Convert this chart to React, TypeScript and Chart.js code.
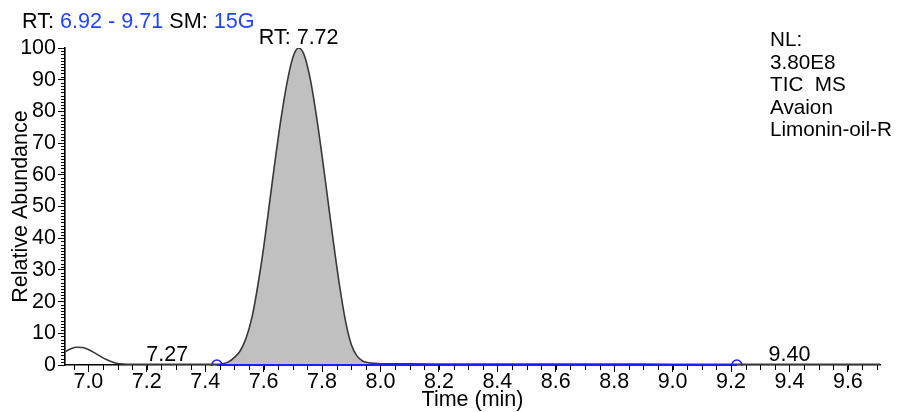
import React, { useEffect, useRef } from 'react';
import { Chart, registerables } from 'chart.js';

Chart.register(...registerables);

// Retention time (min)
const times = [
  6.92, 6.94, 6.96, 6.98, 7.0, 7.02, 7.04, 7.06, 7.08, 7.1, 7.12, 7.14, 7.2, 7.3, 7.4,
  7.44, 7.46, 7.48, 7.5, 7.52, 7.54, 7.56, 7.58, 7.6, 7.62, 7.64, 7.66, 7.68, 7.7, 7.72,
  7.74, 7.76, 7.78, 7.8, 7.82, 7.84, 7.86, 7.88, 7.9, 7.92, 7.94, 7.96, 7.98, 8.0, 8.1,
  8.3, 8.6, 9.0, 9.22, 9.4, 9.71,
];
// Relative abundance (%)
const abundance = [
  4.2, 5.1, 5.6, 5.5, 4.9, 3.9, 2.8, 1.8, 1.0, 0.5, 0.3, 0.2, 0.2, 0.2, 0.2,
  0.2, 0.4, 1.0, 2.4, 4.5, 8.5, 15, 25, 37, 51, 65, 78, 89, 97, 100,
  97.5, 90, 79, 66, 52, 38, 25, 14, 6.5, 2.8, 1.2, 0.7, 0.5, 0.4, 0.35,
  0.3, 0.3, 0.25, 0.2, 0.2, 0.2,
];

const integrationStart = 7.44;
const integrationEnd = 9.22;

const xTickValues = [7.0, 7.2, 7.4, 7.6, 7.8, 8.0, 8.2, 8.4, 8.6, 8.8, 9.0, 9.2, 9.4, 9.6];
const yTickValues = [0, 10, 20, 30, 40, 50, 60, 70, 80, 90, 100];

const peakLabelRT = [7.72, 7.27, 9.4];
const peakLabelText = ['RT: 7.72', '7.27', '9.40'];
const peakLabelLevel = [100, 0, 0];

const headerParts = ['RT: ', '6.92 - 9.71', ' SM: ', '15G'];
const headerColors = ['#000000', '#1f45ff', '#000000', '#1f45ff'];
const infoLines = ['NL:', '3.80E8', 'TIC  MS', 'Avaion', 'Limonin-oil-R'];

const FONT = 'Arial, "Liberation Sans", Helvetica, sans-serif';

export default function App() {
  const ref = useRef<HTMLCanvasElement | null>(null);

  useEffect(() => {
    const canvas = ref.current;
    if (!canvas) return;

    const signal = times.map((t, i) => ({ x: t, y: abundance[i] }));
    const filled = signal.filter((p) => p.x >= integrationStart && p.x <= integrationEnd);
    const baseline = [
      { x: integrationStart, y: 0 },
      { x: integrationEnd, y: 0 },
    ];

    const minorTicks = {
      id: 'minorTicks',
      afterDatasetsDraw(chart: any) {
        const ctx = chart.ctx;
        const xs = chart.scales.x;
        const ys = chart.scales.y;
        const y0 = ys.getPixelForValue(0);
        const xAxis = xs.left;
        ctx.save();
        ctx.strokeStyle = '#000';
        ctx.lineWidth = 1;
        for (let k = 139; k <= 194; k++) {
          const v = k * 0.05;
          if (v < xs.min || v > xs.max) continue;
          const px = Math.round(xs.getPixelForValue(v)) + 0.5;
          ctx.beginPath();
          ctx.moveTo(px, y0);
          ctx.lineTo(px, y0 + 5);
          ctx.stroke();
        }
        for (let v = 1; v < 100; v++) {
          if (v % 10 === 0) continue;
          const py = Math.round(ys.getPixelForValue(v)) + 0.5;
          ctx.beginPath();
          ctx.moveTo(xAxis, py);
          ctx.lineTo(xAxis - 4, py);
          ctx.stroke();
        }
        ctx.restore();
      },
    };

    const texts = {
      id: 'texts',
      afterDraw(chart: any) {
        const ctx = chart.ctx;
        const xs = chart.scales.x;
        const ys = chart.scales.y;
        ctx.save();
        ctx.textBaseline = 'alphabetic';
        // header
        ctx.font = `21.6px ${FONT}`;
        ctx.textAlign = 'left';
        let hx = 22;
        headerParts.forEach((p, i) => {
          ctx.fillStyle = headerColors[i];
          ctx.fillText(p, hx, 28);
          hx += ctx.measureText(p).width;
        });
        // info block
        ctx.fillStyle = '#000';
        ctx.font = `20.7px ${FONT}`;
        infoLines.forEach((line, i) => {
          ctx.fillText(line, 770, 46 + i * 22.6);
        });
        // peak labels
        ctx.textAlign = 'center';
        ctx.font = `21.5px ${FONT}`;
        peakLabelRT.forEach((rt, i) => {
          const px = xs.getPixelForValue(rt);
          const py = ys.getPixelForValue(peakLabelLevel[i]);
          ctx.fillText(peakLabelText[i], px, py - 4);
        });
        ctx.restore();
      },
    };

    const chart = new Chart(canvas, {
      type: 'line',
      data: {
        datasets: [
          {
            data: filled,
            fill: 'origin',
            backgroundColor: '#c0c0c0',
            borderWidth: 0,
            borderColor: 'rgba(0,0,0,0)',
            pointRadius: 0,
            cubicInterpolationMode: 'monotone',
            order: 3,
          },
          {
            data: signal,
            fill: false,
            borderColor: '#383838',
            borderWidth: 1.6,
            pointRadius: 0,
            cubicInterpolationMode: 'monotone',
            order: 2,
          },
          {
            data: baseline,
            fill: false,
            borderColor: '#2020ff',
            borderWidth: 2,
            pointRadius: 5,
            pointBorderColor: '#2020ff',
            pointBackgroundColor: 'rgba(0,0,0,0)',
            pointBorderWidth: 1.5,
            clip: { left: false, right: false, top: false, bottom: 1 } as any,
            order: 1,
          },
        ] as any,
      },
      options: {
        animation: false,
        responsive: false,
        devicePixelRatio: 1,
        parsing: false as any,
        layout: { padding: { top: 48, right: 18, left: 0, bottom: 0 } },
        plugins: {
          legend: { display: false },
          tooltip: { enabled: false },
          title: { display: false },
        },
        scales: {
          x: {
            type: 'linear',
            min: 6.92,
            max: 9.71,
            afterBuildTicks: (scale: any) => {
              scale.ticks = xTickValues.map((v) => ({ value: v }));
            },
            afterFit: (scale: any) => {
              scale.height = 47;
            },
            grid: {
              drawOnChartArea: false,
              drawTicks: true,
              tickLength: 7,
              tickColor: '#000',
            },
            border: { display: true, color: '#000', width: 1.6 },
            ticks: {
              autoSkip: false,
              maxRotation: 0,
              padding: -3,
              color: '#000',
              font: { family: FONT, size: 21.5 },
              callback: (v: any) => Number(v).toFixed(1),
            },
            title: {
              display: true,
              text: 'Time (min)',
              color: '#000',
              font: { family: FONT, size: 21.5 },
              padding: { top: 0, bottom: -1 },
            },
          },
          y: {
            type: 'linear',
            min: 0,
            max: 100,
            afterBuildTicks: (scale: any) => {
              scale.ticks = yTickValues.map((v) => ({ value: v }));
            },
            afterFit: (scale: any) => {
              scale.width = 65;
            },
            grid: {
              drawOnChartArea: false,
              drawTicks: true,
              tickLength: 7,
              tickColor: '#000',
            },
            border: { display: true, color: '#000', width: 1.6 },
            ticks: {
              autoSkip: false,
              padding: 2,
              color: '#000',
              font: { family: FONT, size: 21.5 },
            },
            title: {
              display: true,
              text: 'Relative Abundance',
              color: '#000',
              font: { family: FONT, size: 21.5 },
              padding: { top: 8, bottom: 0 },
            },
          },
        },
      } as any,
      plugins: [minorTicks, texts],
    });

    return () => chart.destroy();
  }, []);

  return (
    <div style={{ position: 'absolute', left: 0, top: 0, width: 898, height: 412, background: '#fff' }}>
      <canvas ref={ref} width={898} height={412} style={{ width: 898, height: 412, display: 'block' }} />
    </div>
  );
}
